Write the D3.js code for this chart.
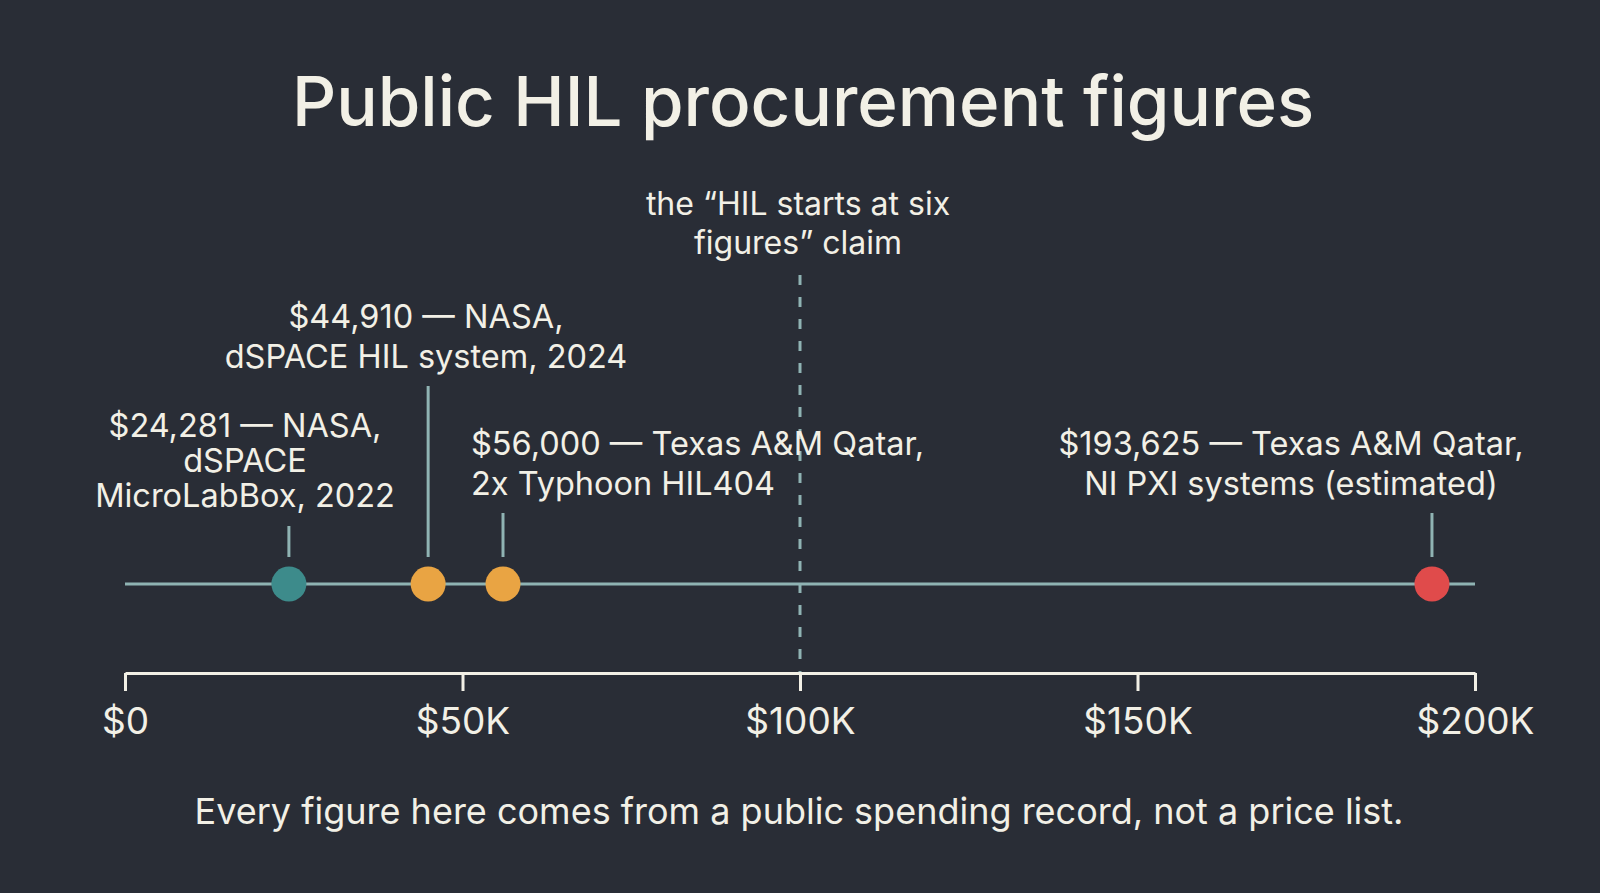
<!DOCTYPE html>
<html>
<head>
<meta charset="utf-8">
<script src="https://cdn.jsdelivr.net/npm/d3@7"></script>
<style>
  html, body { margin: 0; padding: 0; background: #292d36; }
  svg { display: block; }
  text { font-family: Inter, "Noto Sans", sans-serif; fill: #f2f0e6; }
</style>
</head>
<body>
<div id="chart"></div>
<script>
// values
var amounts = [24281, 44910, 56000, 193625];
var labels = [
  ["$24,281 \u2014 NASA,", "dSPACE", "MicroLabBox, 2022"],
  ["$44,910 \u2014 NASA,", "dSPACE HIL system, 2024"],
  ["$56,000 \u2014 Texas A&M Qatar,", "2x Typhoon HIL404"],
  ["$193,625 \u2014 Texas A&M Qatar,", "NI PXI systems (estimated)"]
];
var kinds = ["nasa22", "nasa24", "tamuq", "tamuq_est"];
var claimValue = 100000;
var claimText = ["the \u201cHIL starts at six", "figures\u201d claim"];
var tickValues = [0, 50000, 100000, 150000, 200000];
var tickLabels = ["$0", "$50K", "$100K", "$150K", "$200K"];

// layout for the callouts (not data)
var layout = [
  { x: 245, lines: [437, 472, 507], anchor: "middle", lead: 526 },
  { x: 426, lines: [328, 368], anchor: "middle", lead: 386 },
  { x: 471, lines: [455, 495], anchor: "start", lead: 513 },
  { x: 1291, lines: [455, 495], anchor: "middle", lead: 513 }
];

var colors = { nasa22: "#3d8b8b", nasa24: "#e9a443", tamuq: "#e9a443", tamuq_est: "#e04b4b" };

var width = 1600, height = 893,
    lineY = 584, axisY = 673, leadBottom = 557, r = 17.5;

var x = d3.scaleLinear().domain([0, 200000]).range([125, 1475]);

var svg = d3.select("#chart").append("svg")
    .attr("width", width)
    .attr("height", height);

svg.append("rect")
    .attr("width", width)
    .attr("height", height)
    .attr("fill", "#292d36");

svg.append("text")
    .attr("x", 803)
    .attr("y", 126)
    .attr("text-anchor", "middle")
    .style("font-size", "69px")
    .style("font-weight", 500)
    .text("Public HIL procurement figures");

// claim marker
svg.append("line")
    .attr("x1", x(claimValue)).attr("x2", x(claimValue))
    .attr("y1", 275).attr("y2", axisY)
    .attr("stroke", "#8fb3b3")
    .attr("stroke-width", 3)
    .attr("stroke-dasharray", "10,12");

svg.selectAll(".claim")
    .data(claimText)
    .enter().append("text")
    .attr("class", "claim")
    .attr("x", 798)
    .attr("y", function(d, i) { return 215 + i * 39; })
    .attr("text-anchor", "middle")
    .style("font-size", "32px")
    .text(function(d) { return d; });

// timeline
svg.append("line")
    .attr("x1", x(0)).attr("x2", x(200000))
    .attr("y1", lineY).attr("y2", lineY)
    .attr("stroke", "#8fb3b3")
    .attr("stroke-width", 3);

var pts = amounts.map(function(v, i) {
  return { value: v, lines: labels[i], kind: kinds[i], lay: layout[i] };
});

svg.selectAll(".lead")
    .data(pts)
    .enter().append("line")
    .attr("class", "lead")
    .attr("x1", function(d) { return x(d.value); })
    .attr("x2", function(d) { return x(d.value); })
    .attr("y1", function(d) { return d.lay.lead; })
    .attr("y2", leadBottom)
    .attr("stroke", "#8fb3b3")
    .attr("stroke-width", 3);

svg.selectAll(".dot")
    .data(pts)
    .enter().append("circle")
    .attr("class", "dot")
    .attr("cx", function(d) { return x(d.value); })
    .attr("cy", lineY)
    .attr("r", r)
    .attr("fill", function(d) { return colors[d.kind]; });

var callouts = svg.selectAll(".callout")
    .data(pts)
    .enter().append("text")
    .attr("class", "callout")
    .attr("text-anchor", function(d) { return d.lay.anchor; })
    .style("font-size", "32.5px");

callouts.selectAll("tspan")
    .data(function(d) {
      return d.lines.map(function(t, j) { return { t: t, x: d.lay.x, y: d.lay.lines[j] }; });
    })
    .enter().append("tspan")
    .attr("x", function(d) { return d.x; })
    .attr("y", function(d) { return d.y; })
    .text(function(d) { return d.t; });

// axis
var axis = d3.axisBottom(x)
    .tickValues(tickValues)
    .tickSize(18)
    .tickPadding(17)
    .tickSizeOuter(0)
    .tickFormat(function(d, i) { return tickLabels[i]; });

var ax = svg.append("g")
    .attr("transform", "translate(0," + axisY + ")")
    .call(axis);

ax.select(".domain").attr("stroke", "#f2f0e6").attr("stroke-width", 3);
ax.selectAll(".tick line").attr("stroke", "#f2f0e6").attr("stroke-width", 3);
ax.selectAll(".tick text")
    .attr("fill", "#f2f0e6")
    .style("font-family", "Inter, 'Noto Sans', sans-serif")
    .style("font-size", "37px");

svg.append("text")
    .attr("x", 799)
    .attr("y", 824)
    .attr("text-anchor", "middle")
    .style("font-size", "36px")
    .text("Every figure here comes from a public spending record, not a price list.");
</script>
</body>
</html>
